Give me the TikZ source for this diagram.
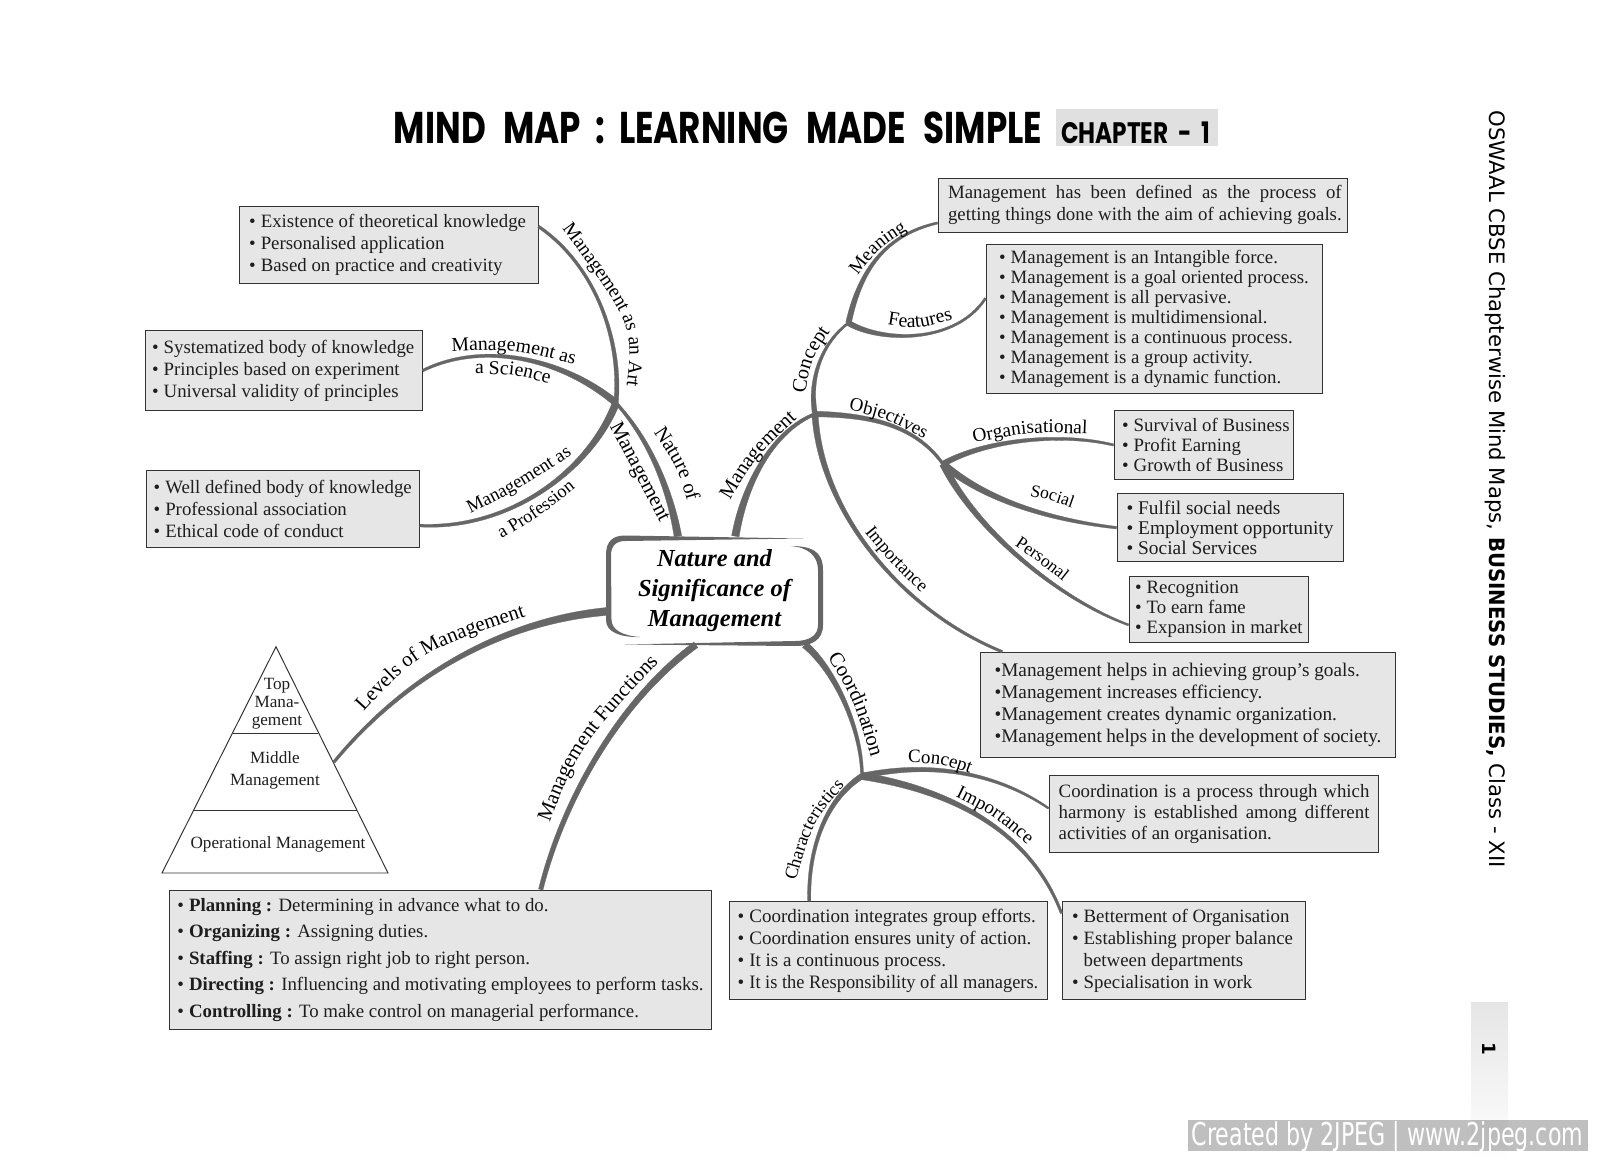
\documentclass[tikz,border=0pt]{standalone}
\usepackage{fontspec}
\setmainfont{Liberation Serif}
\newfontfamily\titlefont{Poppins}
\newfontfamily\sidefont{DejaVu Sans}
\usetikzlibrary{calc,decorations.text}
\definecolor{limbgray}{HTML}{666666}
\definecolor{boxfill}{HTML}{E6E6E6}
\definecolor{boxline}{HTML}{333333}
\definecolor{ink}{HTML}{1E1E1E}
\tikzset{
  infobox/.style n args={4}{rectangle,draw=boxline,fill=boxfill,line width=.7pt,text=ink,
    inner xsep=#4*.025cm,inner ysep=0pt,text width={(#1-2*#4)*.025cm},
    minimum height=#2*.025cm,align=flush left,font=\fontsize{13.4}{#3}\selectfont},
  pyrtext/.style={text=ink,align=flush center,inner sep=0pt,font=\fontsize{12.2}{12.9}\selectfont}
}
\newcommand{\blt}{\makebox[8.3pt][l]{•}}
% tapered branch: from, control, control, to, half width at each end (pt)
\newcommand{\limb}[6]{
  \filldraw[limbgray,line width=.2pt]
    ($(#1)!#5pt!90:(#2)$) .. controls ($(#2)!#5pt*.7+#6pt*.3!-90:(#1)$) and ($(#3)!#5pt*.3+#6pt*.7!90:(#4)$) .. ($(#4)!#6pt!-90:(#3)$)
    -- ($(#4)!#6pt!90:(#3)$) .. controls ($(#3)!#5pt*.3+#6pt*.7!-90:(#4)$) and ($(#2)!#5pt*.7+#6pt*.3!90:(#1)$) .. ($(#1)!#5pt!-90:(#2)$) -- cycle;
}
% text on a curve: size, start, control, end, text
\newcommand{\arclabel}[5]{
  \def\lblfont{\fontsize{#1}{#1}\selectfont}
  \path[decorate,decoration={text along path,text align=center,text={|\lblfont|#5}}]
    ($(#2)!-.12!(#3)$) .. controls (#3) .. ($(#4)!-.12!(#3)$);
}
\begin{document}
\begin{tikzpicture}[x=.025cm,y=-.025cm]
  \useasboundingbox (0,0) rectangle (1600,1163);

  % heading
  \node[fill=black!12,minimum width=162*.025cm,minimum height=37.5*.025cm,inner sep=0pt] (chapbg) at (1137,127.3) {};
  \node[inner sep=0pt] (title) at (718,128) {\resizebox{16.2cm}{.79cm}{\titlefont\bfseries MIND\hspace{.3em} MAP\hspace{.2em} :\hspace{.2em} LEARNING\hspace{.3em} MADE\hspace{.3em} SIMPLE}};
  \node[inner sep=0pt] (chapter) at (1135.5,133) {\resizebox{3.72cm}{.54cm}{\titlefont\bfseries CHAPTER\hspace{.2em} -\hspace{.2em} 1}};

  % side strip
  \node[rotate=-90,inner sep=0pt] (sidetext) at (1495,489) {\resizebox{18.92cm}{!}{\sidefont OSWAAL CBSE Chapterwise Mind Maps, \scalebox{.93}[1]{\bfseries BUSINESS STUDIES,} Class - XII}};
  \shade[top color=black!10,bottom color=white] (1471,1002) rectangle (1508,1163);
  \node[rotate=-90,inner sep=0pt,font=\sidefont\bfseries\fontsize{13}{13}\selectfont] (pageno) at (1489,1049) {1};
  \node[fill=black,fill opacity=.25,minimum width=400*.025cm,minimum height=31*.025cm,inner sep=0pt] (markbg) at (1388,1135.5) {};
  \node[text=white,inner sep=0pt] (mark) at (1387.5,1137) {\resizebox{9.78cm}{.6cm}{\sidefont Created by 2JPEG | www.2jpeg.com}};

  % middle
  \node[inner sep=0pt,minimum width=215*.025cm,minimum height=108*.025cm,align=flush center,text=black,
    font=\bfseries\itshape\fontsize{17.4}{21.5}\selectfont] (hub) at (714.5,590.5) {Nature and\\Significance of\\Management};
  \fill[limbgray] (803,538.5) -- (625,535.5) .. controls (612,535.5) and (606,542) .. (606,555) -- (606,620)
    .. controls (606,632) and (620,637.5) .. (640,637) .. controls (622,635.5) and (612,630) .. (611.5,620)
    -- (611,555) .. controls (611,546) and (616,541) .. (625,541) -- cycle;
  \fill[limbgray] (790,546) .. controls (810,546) and (823,550) .. (823,570) -- (823,625)
    .. controls (823,640) and (812,646) .. (795,646) -- (625,644.5) -- (795,641)
    .. controls (810,641) and (818,635) .. (818,625) -- (818,570) .. controls (818,556) and (808,547) .. (790,546) -- cycle;

  % junctions
  \coordinate (jnat) at (616,403);
  \coordinate (jcon) at (815,414);
  \coordinate (jfeat) at (848.5,323);
  \coordinate (jobj) at (943,464);
  \coordinate (jco) at (862,776);

  % left hand boxes
  \node[infobox={299}{77}{15.6pt}{10}] (artbox) at (388.6,245) {\blt Existence of theoretical knowledge\\\blt Personalised application\\\blt Based on practice and creativity};
  \node[infobox={277.4}{79.7}{15.6pt}{7}] (scibox) at (283.7,370.5) {\blt Systematized body of knowledge\\\blt Principles based on experiment\\\blt Universal validity of principles};
  \node[infobox={273.4}{76.6}{15.6pt}{7.6}] (profbox) at (282.7,508.7) {\blt Well defined body of knowledge\\\blt Professional association\\\blt Ethical code of conduct};

  % right hand boxes
  \node[infobox={409}{54}{15.2pt}{10}] (meanbox) at (1142.5,205) {\makebox[280pt][s]{Management has been defined as the process of}\\\makebox[280pt][s]{getting things done with the aim of achieving goals.}};
  \node[infobox={336.4}{149}{14.2pt}{13}] (featbox) at (1154.2,319) {\blt Management is an Intangible force.\\\blt Management is a goal oriented process.\\\blt Management is all pervasive.\\\blt Management is multidimensional.\\\blt Management is a continuous process.\\\blt Management is a group activity.\\\blt Management is a dynamic function.};
  \node[infobox={179}{69}{14.2pt}{8}] (orgbox) at (1203.5,445) {\mbox{\blt Survival of Business}\\\blt Profit Earning\\\blt Growth of Business};
  \node[infobox={226}{68.2}{14.2pt}{9.5},font=\fontsize{13.8}{14.2}\selectfont] (socbox) at (1230,527.7) {\blt Fulfil social needs\\\blt Employment opportunity\\\blt Social Services};
  \node[infobox={179}{66}{14.2pt}{6}] (persbox) at (1218.5,609) {\blt Recognition\\\blt To earn fame\\\mbox{\blt Expansion in market}};
  \node[infobox={414.8}{105.6}{15.6pt}{14},font=\fontsize{13.7}{15.6}\selectfont] (impbox) at (1188,705) {•Management helps in achieving group's goals.\\•Management increases efficiency.\\•Management creates dynamic organization.\\•Management helps in the development of society.};
  \node[infobox={329}{77.8}{15.2pt}{9.7}] (concbox) at (1213.5,814) {\makebox[221pt][s]{Coordination is a process through which}\\\makebox[221pt][s]{harmony is established among different}\\activities of an organisation.};

  % lower boxes
  \node[infobox={318.4}{97.7}{15.6pt}{8.7},font=\fontsize{13.5}{15.6}\selectfont] (charbox) at (888.2,950.5) {\blt Coordination integrates group efforts.\\\blt Coordination ensures unity of action.\\\blt It is a continuous process.\\\mbox{\blt\scalebox{.97}[1]{It is the Responsibility of all managers.}}};
  \node[infobox={243}{97.7}{15.6pt}{10}] (betterbox) at (1183.5,950.5) {\blt Betterment of Organisation\\\blt Establishing proper balance\\\hspace*{8.3pt}between departments\\\blt Specialisation in work};
  \node[infobox={542.3}{139.4}{18.8pt}{8}] (funcbox) at (440.5,959.7) {\blt\textbf{Planning :} Determining in advance what to do.\\\blt\textbf{Organizing :} Assigning duties.\\\blt\textbf{Staffing :} To assign right job to right person.\\\mbox{\blt\textbf{Directing :} Influencing and motivating employees to perform tasks.}\\\blt\textbf{Controlling :} To make control on managerial performance.};

  % pyramid
  \coordinate (pyrtop) at (276,646.7);
  \coordinate (pyrleft) at (162,873);
  \coordinate (pyrright) at (388,873);
  \coordinate (pyrtip) at (334,762);
  \draw[boxline,line width=.7pt] (pyrtop) -- (pyrright) -- (pyrleft) -- cycle;
  \draw[boxline,line width=.8pt] (233,733.2) -- (318.4,733.2);
  \draw[boxline,line width=.8pt] (194,810.8) -- (357,810.8);
  \node[pyrtext] (pyrA) at (277,703.5) {Top\\Mana-\\gement};
  \node[pyrtext,font=\fontsize{12.2}{15.3}\selectfont] (pyrB) at (275,770.5) {Middle\\Management};
  \node[pyrtext] (pyrC) at (278,844) {Operational Management};

  % branches
  \foreach \from/\ca/\cb/\to/\wa/\wb in {
    hub.124/{670,490}/{650,440}/jnat/2.7/1,
    jnat/{622,340}/{595,265}/artbox.7/1.6/1,
    jnat/{565,360}/{485,340}/scibox.east/2.4/.9,
    jnat/{590,470}/{510,530}/profbox.-7/2.6/1,
    hub.69/{745,480}/{775,430}/jcon/2.7/1.1,
    jcon/{808,375}/{825,340}/jfeat/1.8/.8,
    jfeat/{860,270}/{885,235}/meanbox.185.5/2/.8,
    jfeat/{880,342}/{955,345}/featbox.173.4/2/.8,
    jcon/{870,415}/{915,425}/jobj/2/1,
    jobj/{985,440}/{1060,432}/orgbox.west/2/.8,
    jobj/{985,500}/{1050,520}/socbox.west/2.6/.9,
    jobj/{975,530}/{1060,600}/persbox.190.8/2.4/.7,
    jcon/{820,510}/{900,610}/impbox.164/2.2/.9,
    hub.-31/{835,670}/{862,730}/jco/2.5/1,
    jco/{935,760}/{1000,775}/concbox.178.6/2/.7,
    jco/{950,790}/{1030,830}/betterbox.163.3/2.6/.9,
    jco/{825,800}/{808,850}/charbox.148/2/1.1,
    hub.191/{510,620}/{410,670}/pyrtip/2.8/1,
    hub.251/{620,700}/{563,800}/funcbox.35.5/2.4/1.6}
    \limb{\from}{\ca}{\cb}{\to}{\wa}{\wb};

  % branch names
  \arclabel{13.9}{565,232}{634.5,326}{626.5,388}{Management as an Art}
  \arclabel{14}{454,351.4}{513,348.5}{572,364}{Management as}
  \arclabel{14}{477,374}{512,374}{547,383}{a Science}
  \arclabel{13.3}{468,515}{515.5,491.5}{573,454}{Management as}
  \arclabel{13}{500,540}{539.5,516.5}{577,487}{a Profession}
  \arclabel{14.5}{651,428}{678,468.5}{689,507}{Nature of}
  \arclabel{14.8}{607,421}{636,476.5}{663,528}{Management}
  \arclabel{14.5}{727,505}{756,456}{801,415}{Management}
  \arclabel{14.5}{805,396}{810,361}{831,330}{Concept}
  \arclabel{13.5}{855,279}{878,248.5}{911,228}{Meaning}
  \arclabel{14}{888,325}{914.5,329.5}{951,320}{Features}
  \arclabel{13.5}{849,410}{884,418}{923,438}{Objectives}
  \arclabel{13.8}{973,443}{1029.5,431.5}{1088,434}{Organisational}
  \arclabel{12.5}{1029,496}{1050,500}{1072.5,508}{Social}
  \arclabel{12.5}{1012,544}{1036,560}{1065,583}{Personal}
  \arclabel{13}{863,530}{889,562}{923,594}{Importance}
  \arclabel{14.8}{826,655}{853,697}{871.5,759}{Coordination}
  \arclabel{13.5}{907,763}{940,763}{971,774}{Concept}
  \arclabel{13.6}{952,795}{993,815}{1030,847}{Importance}
  \arclabel{13}{795,884}{812.5,821}{848,782}{Characteristics}
  \arclabel{14.8}{360,716}{419,651}{528,615.5}{Levels of Management}
  \arclabel{14.8}{547.5,828}{578,747.5}{660,661}{Management Functions}

\end{tikzpicture}
\end{document}
